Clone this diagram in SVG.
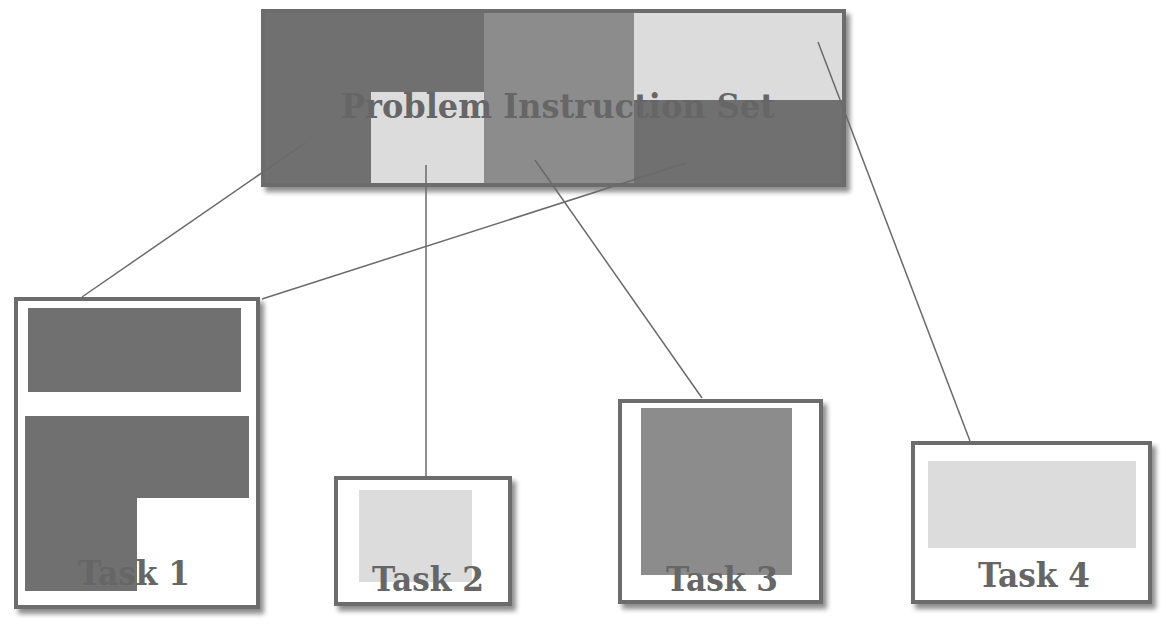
<svg xmlns="http://www.w3.org/2000/svg" width="1167" height="624" viewBox="0 0 1167 624">
<defs>
<filter id="sh" x="-10%" y="-10%" width="125%" height="125%">
<feGaussianBlur in="SourceAlpha" stdDeviation="2.5"/>
<feOffset dx="4" dy="5" result="b"/>
<feComponentTransfer><feFuncA type="linear" slope="0.45"/></feComponentTransfer>
<feMerge><feMergeNode/><feMergeNode in="SourceGraphic"/></feMerge>
</filter>
<style>
.frame{fill:#ffffff;stroke:#6c6c6c;stroke-width:4}
.dark{fill:#707070}
.mid{fill:#8c8c8c}
.light{fill:#dcdcdc}
.lbl{font-family:"DejaVu Serif Condensed","DejaVu Serif","Liberation Serif",serif;font-weight:bold;fill:#666666;text-anchor:middle}
.conn{stroke:#6a6a6a;stroke-width:1.5;fill:none}
</style>
</defs>
<rect width="1167" height="624" fill="#ffffff"/>
<g id="problem">
<rect class="frame" x="263" y="11" width="581" height="174" filter="url(#sh)"/>
<rect class="dark" x="265" y="13" width="219" height="170"/>
<rect class="light" x="371" y="92" width="113" height="91"/>
<rect class="mid" x="484" y="13" width="150" height="170"/>
<rect class="light" x="634" y="13" width="208" height="87"/>
<rect class="dark" x="634" y="100" width="208" height="83"/>
<text class="lbl" x="558" y="118" font-size="33" textLength="434" lengthAdjust="spacingAndGlyphs">Problem Instruction Set</text>
</g>
<g id="task1">
<rect class="frame" x="16" y="299" width="242" height="308" filter="url(#sh)"/>
<rect class="dark" x="28" y="308" width="213" height="84"/>
<path class="dark" d="M25 416H249V498H137V591H25Z"/>
<text class="lbl" x="134" y="585" font-size="33" textLength="112" lengthAdjust="spacingAndGlyphs">Task 1</text>
</g>
<g id="task2">
<rect class="frame" x="336" y="478" width="174" height="126" filter="url(#sh)"/>
<rect class="light" x="359" y="490" width="113" height="92"/>
<text class="lbl" x="428" y="591" font-size="33" textLength="112" lengthAdjust="spacingAndGlyphs">Task 2</text>
</g>
<g id="task3">
<rect class="frame" x="620" y="401" width="201" height="201" filter="url(#sh)"/>
<rect class="mid" x="641" y="408" width="151" height="167"/>
<text class="lbl" x="722" y="591" font-size="33" textLength="112" lengthAdjust="spacingAndGlyphs">Task 3</text>
</g>
<g id="task4">
<rect class="frame" x="913" y="443" width="237" height="159" filter="url(#sh)"/>
<rect class="light" x="928" y="461" width="208" height="87"/>
<text class="lbl" x="1034" y="587" font-size="33" textLength="112" lengthAdjust="spacingAndGlyphs">Task 4</text>
</g>
<g id="connectors">
<line class="conn" x1="305" y1="143" x2="82" y2="297"/>
<line class="conn" x1="686" y1="163" x2="262" y2="299"/>
<line class="conn" x1="426" y1="165" x2="426" y2="476"/>
<line class="conn" x1="535" y1="160" x2="702" y2="398"/>
<line class="conn" x1="818" y1="42" x2="970" y2="441"/>
</g>
</svg>
